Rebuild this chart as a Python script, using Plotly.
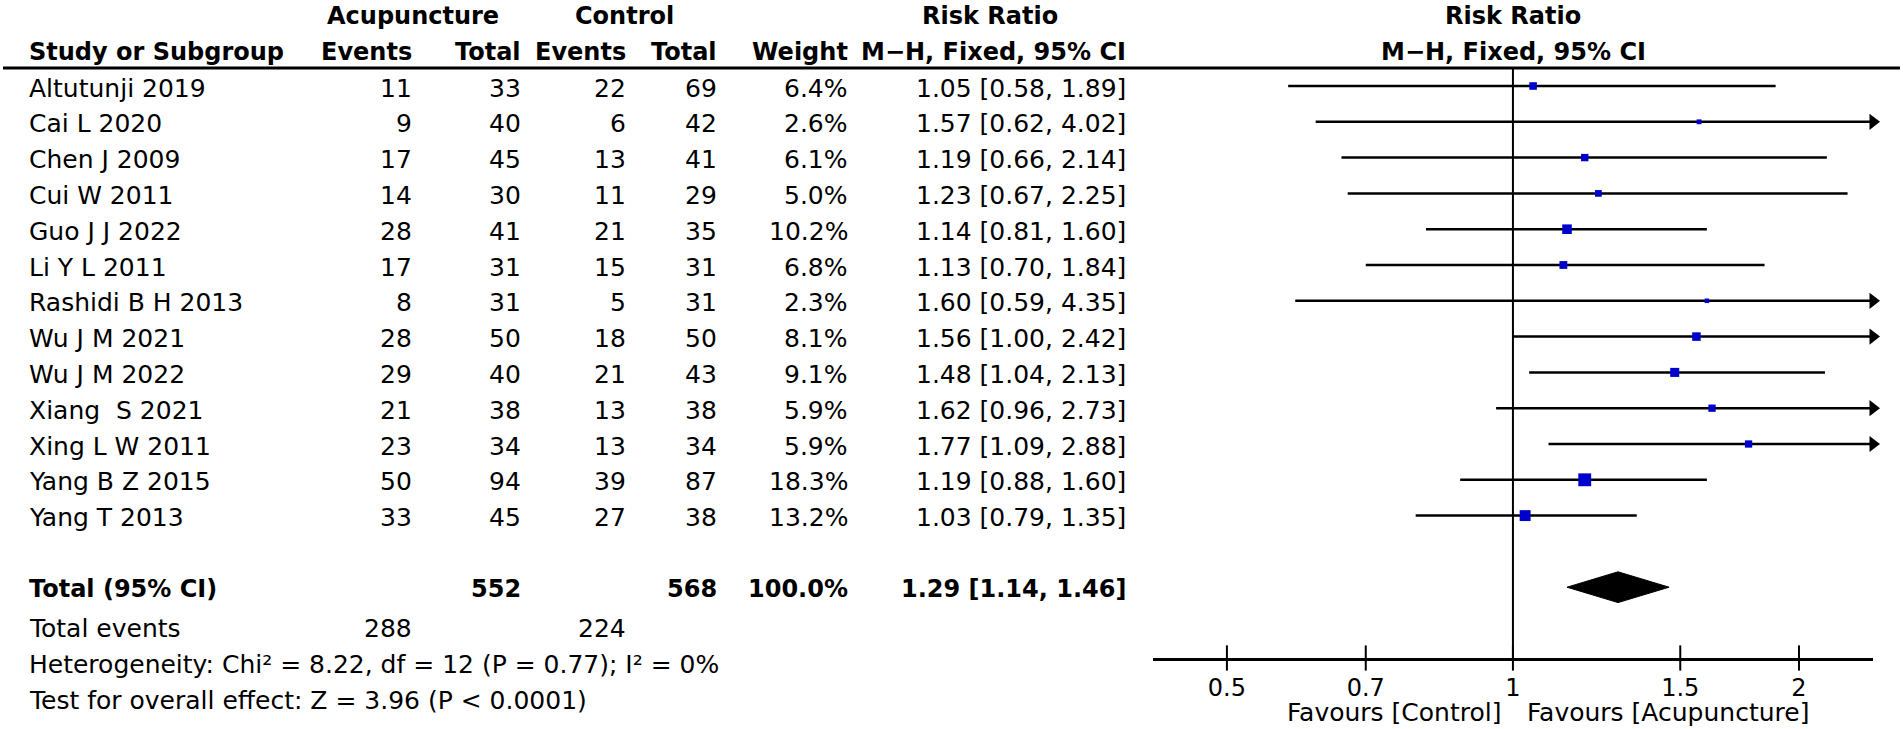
import math
import plotly.graph_objects as go

# ---------------- data ----------------
studies = ["Altutunji 2019", "Cai L 2020", "Chen J 2009", "Cui W 2011", "Guo J J 2022",
           "Li Y L 2011", "Rashidi B H 2013", "Wu J M 2021", "Wu J M 2022", "Xiang  S 2021",
           "Xing L W 2011", "Yang B Z 2015", "Yang T 2013"]
acu_events = [11, 9, 17, 14, 28, 17, 8, 28, 29, 21, 23, 50, 33]
acu_total = [33, 40, 45, 30, 41, 31, 31, 50, 40, 38, 34, 94, 45]
ctl_events = [22, 6, 13, 11, 21, 15, 5, 18, 21, 13, 13, 39, 27]
ctl_total = [69, 42, 41, 29, 35, 31, 31, 50, 43, 38, 34, 87, 38]
weights = [6.4, 2.6, 6.1, 5.0, 10.2, 6.8, 2.3, 8.1, 9.1, 5.9, 5.9, 18.3, 13.2]
rr = [1.05, 1.57, 1.19, 1.23, 1.14, 1.13, 1.60, 1.56, 1.48, 1.62, 1.77, 1.19, 1.03]
rr_lo = [0.58, 0.62, 0.66, 0.67, 0.81, 0.70, 0.59, 1.00, 1.04, 0.96, 1.09, 0.88, 0.79]
rr_hi = [1.89, 4.02, 2.14, 2.25, 1.60, 1.84, 4.35, 2.42, 2.13, 2.73, 2.88, 1.60, 1.35]

total_acu = 552
total_ctl = 568
total_weight = 100.0
total_rr, total_lo, total_hi = 1.29, 1.14, 1.46
events_acu = 288
events_ctl = 224
heterogeneity = "Heterogeneity: Chi² = 8.22, df = 12 (P = 0.77); I² = 0%"
overall = "Test for overall effect: Z = 3.96 (P < 0.0001)"

tick_vals = [0.5, 0.7, 1, 1.5, 2]
tick_text = ["0.5", "0.7", "1", "1.5", "2"]
axis_min, axis_max = 0.418, 2.393
null_value = 1

# ---------------- layout constants ----------------
W, H = 1903, 729
ROW0 = 50.2       # pixel of row 0
ROWH = 35.8       # pixels per row
AXIS_PX = 658     # pixel row of the forest x-axis line
FONT = "DejaVu Sans"
FS = 25           # regular text
FSB = 24          # bold text
TSHIFT = -2       # text nudge (px)
BLUE = "#0000CC"


def row_of(px):
    return (px - ROW0) / ROWH


study_rows = [i + 1 for i in range(len(studies))]
total_row = 15
events_row = 16.1
het_row = 17.1
test_row = 18.1
axis_row = row_of(AXIS_PX)

# column right edges (pixels on the table axis)
COL_NAME = 27
COL_AE, COL_AT, COL_CE, COL_CT, COL_W, COL_RR = 414, 523, 628, 719, 850, 1128
PLOT_L, PLOT_R = 1153, 1873

fig = go.Figure()

# ---- forest plot traces (x2 / y2) ----
ln_x, ln_y = [], []
arrow_x, arrow_y = [], []
for r, lo, hi in zip(study_rows, rr_lo, rr_hi):
    ln_x += [max(lo, axis_min), min(hi, axis_max), None]
    ln_y += [r, r, None]
    if hi > axis_max:
        arrow_x.append(axis_max)
        arrow_y.append(r)

fig.add_trace(go.Scatter(x=[null_value, null_value], y=[0.5, axis_row], mode="lines",
                         line=dict(color="black", width=2), xaxis="x2", yaxis="y2",
                         hoverinfo="skip", showlegend=False, cliponaxis=False))
fig.add_trace(go.Scatter(x=ln_x, y=ln_y, mode="lines", line=dict(color="black", width=2.5),
                         xaxis="x2", yaxis="y2", showlegend=False, cliponaxis=False))
fig.add_trace(go.Scatter(x=arrow_x, y=arrow_y, mode="markers",
                         marker=dict(symbol="triangle-right", size=14, color="black"),
                         xaxis="x2", yaxis="y2", showlegend=False, cliponaxis=False))
fig.add_trace(go.Scatter(x=rr, y=study_rows, mode="markers",
                         marker=dict(symbol="square", color=BLUE, opacity=1,
                                     size=[max(4.5, 3.0 * math.sqrt(w)) for w in weights],
                                     line=dict(width=0)),
                         xaxis="x2", yaxis="y2", showlegend=False, cliponaxis=False))
dh = 0.43
fig.add_trace(go.Scatter(x=[total_lo, total_rr, total_hi, total_rr, total_lo],
                         y=[total_row, total_row - dh, total_row, total_row + dh, total_row],
                         mode="lines", fill="toself", fillcolor="black",
                         line=dict(color="black", width=1),
                         xaxis="x2", yaxis="y2", showlegend=False))
fig.add_trace(go.Scatter(x=tick_vals, y=[axis_row] * len(tick_vals), mode="markers",
                         marker=dict(symbol="line-ns", size=18,
                                     line=dict(color="black", width=2)),
                         xaxis="x2", yaxis="y2", showlegend=False, cliponaxis=False))

# ---- table text ----
ann = []


def txt(x, y, s, anchor="right", bold=False, xref="x"):
    ann.append(dict(x=x, y=y, xref=xref, yref="y", text=("<b>%s</b>" % s) if bold else s,
                    showarrow=False, xanchor=anchor, yanchor="middle", yshift=TSHIFT,
                    font=dict(family=FONT, size=FSB if bold else FS, color="black")))


# headers
txt(413, -1, "Acupuncture", anchor="center", bold=True)
txt(624, -1, "Control", anchor="center", bold=True)
txt(990, -1, "Risk Ratio", anchor="center", bold=True)
txt(COL_NAME, 0, "Study or Subgroup", anchor="left", bold=True)
txt(COL_AE, 0, "Events", bold=True)
txt(COL_AT, 0, "Total", bold=True)
txt(COL_CE, 0, "Events", bold=True)
txt(COL_CT, 0, "Total", bold=True)
txt(COL_W, 0, "Weight", bold=True)
txt(COL_RR, 0, "M−H, Fixed, 95% CI", bold=True)
plot_center = (PLOT_L + PLOT_R) / 2
txt(plot_center, -1, "Risk Ratio", anchor="center", bold=True)
txt(plot_center, 0, "M−H, Fixed, 95% CI", anchor="center", bold=True)

for i, r in enumerate(study_rows):
    txt(COL_NAME, r, studies[i], anchor="left")
    txt(COL_AE, r, str(acu_events[i]))
    txt(COL_AT, r, str(acu_total[i]))
    txt(COL_CE, r, str(ctl_events[i]))
    txt(COL_CT, r, str(ctl_total[i]))
    txt(COL_W, r, "%.1f%%" % weights[i])
    txt(COL_RR, r, "%.2f [%.2f, %.2f]" % (rr[i], rr_lo[i], rr_hi[i]))

txt(COL_NAME, total_row, "Total (95% CI)", anchor="left", bold=True)
txt(COL_AT, total_row, str(total_acu), bold=True)
txt(COL_CT, total_row, str(total_ctl), bold=True)
txt(COL_W, total_row, "%.1f%%" % total_weight, bold=True)
txt(COL_RR, total_row, "%.2f [%.2f, %.2f]" % (total_rr, total_lo, total_hi), bold=True)
txt(COL_NAME, events_row, "Total events", anchor="left")
txt(COL_AE, events_row, str(events_acu))
txt(COL_CE, events_row, str(events_ctl))
txt(COL_NAME, het_row, heterogeneity, anchor="left")
txt(COL_NAME, test_row, overall, anchor="left")

# favours labels (x2 is log: annotation x in log10 units)
fav_row = row_of(712)
ann.append(dict(x=math.log10(null_value), y=fav_row, xref="x2", yref="y", xanchor="right",
                yanchor="middle", xshift=-10, showarrow=False, text="Favours [Control]",
                font=dict(family=FONT, size=FS, color="black")))
ann.append(dict(x=math.log10(null_value), y=fav_row, xref="x2", yref="y", xanchor="left",
                yanchor="middle", xshift=12, showarrow=False, text="Favours [Acupuncture]",
                font=dict(family=FONT, size=FS, color="black")))

fig.update_layout(
    width=W, height=H, margin=dict(l=0, r=0, t=0, b=0),
    paper_bgcolor="white", plot_bgcolor="rgba(0,0,0,0)",
    showlegend=False, annotations=ann,
    font=dict(family=FONT, size=FS, color="black"),
    xaxis=dict(domain=[0, 1], range=[0, W], visible=False, fixedrange=True),
    yaxis=dict(domain=[0, 1], range=[row_of(H), row_of(0)], visible=False, fixedrange=True),
    xaxis2=dict(domain=[PLOT_L / W, PLOT_R / W], type="log",
                range=[math.log10(axis_min), math.log10(axis_max)],
                anchor="y2", showline=True, linecolor="black", linewidth=2.5,
                ticks="", tickvals=tick_vals, ticktext=tick_text, showgrid=False,
                zeroline=False, tickfont=dict(family=FONT, size=24, color="black"),
                ticklabelstandoff=6),
    yaxis2=dict(domain=[(H - AXIS_PX) / H, 1], range=[axis_row, row_of(0)],
                visible=False, anchor="x2", fixedrange=True),
    shapes=[dict(type="line", xref="paper", yref="y", x0=3 / W, x1=1900 / W,
                 y0=0.5, y1=0.5, line=dict(color="black", width=3))],
)

fig.write_html("out.html")
